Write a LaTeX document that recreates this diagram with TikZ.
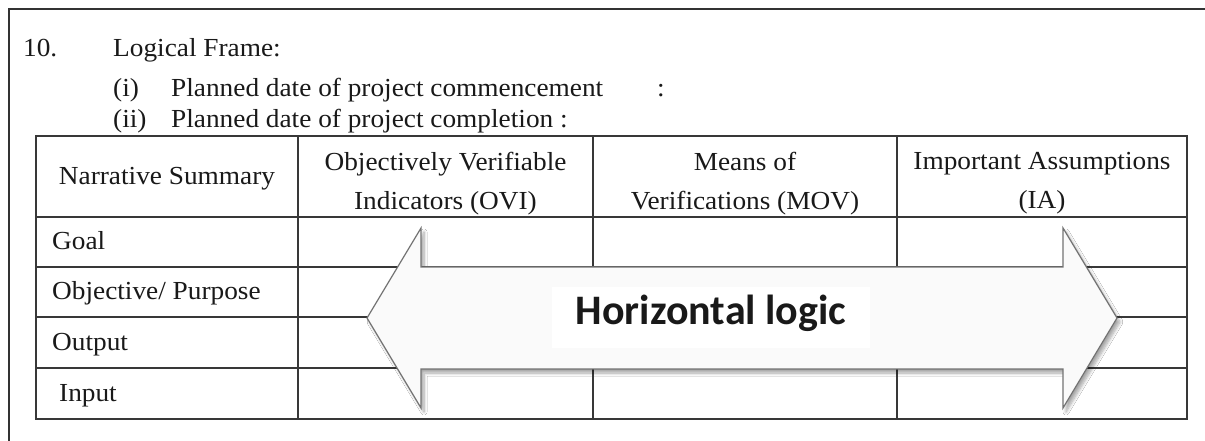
\documentclass[tikz,border=0pt]{standalone}
\usepackage{fontspec}
\setmainfont{Liberation Serif}[FakeStretch=1.05]
\newfontfamily\labelfont{Carlito}
\usetikzlibrary{shadows.blur}

\begin{document}
\begin{tikzpicture}[x=1bp, y=-1bp,
  frameline/.style={draw=black!80, line width=2bp},
  rule/.style={draw=black!78, line width=1.6bp},
  body/.style={font=\fontsize{26bp}{39bp}\selectfont, text=black!90, inner sep=0pt},
  headcell/.style={body, align=center},
  rowlabel/.style={body, anchor=base west},
  bigarrow/.style={draw=black!55, line width=1.2bp, fill=white!98!black,
    blur shadow={shadow xshift=3bp, shadow yshift=-4bp, shadow opacity=35,
      shadow blur radius=3bp, shadow blur steps=8}},
  caption/.style={fill=white, font=\labelfont\bfseries\fontsize{42bp}{50bp}\selectfont,
    text=black!90, text height=27bp, text depth=12bp, inner xsep=24bp, inner ysep=0pt,
    minimum height=61bp}
]
% page
\fill[white] (0,0) rectangle (1205,441);
\useasboundingbox (0,0) rectangle (1205,441);

% outer frame (left and top edges)
\coordinate (fbl) at (9,441);
\coordinate (ftl) at (9,9);
\coordinate (ftr) at (1205,9);
\draw[frameline] (fbl) -- (ftl) -- (ftr);

% heading lines
\node[rowlabel] (num)    at (23,57)  {10.};
\node[rowlabel] (title)  at (113,57) {Logical Frame:};
\node[rowlabel] (ia)     at (113,97) {(i)};
\node[rowlabel] (start)  at (171,97) {Planned date of project commencement};
\node[rowlabel] (colon)  at (657,97) {:};
\node[rowlabel] (iia)    at (113,128) {(ii)};
\node[rowlabel] (finish) at (171,128) {Planned date of project completion :};

% table grid
\coordinate (tnw) at (36,136);
\coordinate (tse) at (1187,419);
\draw[rule] (tnw) rectangle (tse);
\foreach \yy in {217,267,317,368}
  \draw[rule] (36,\yy) -- (1187,\yy);
\foreach \xx in {298,593,897}
  \draw[rule] (\xx,136) -- (\xx,419);

% header cells
\node[rowlabel, anchor=base] (h1) at (167,185) {Narrative Summary};
\node[headcell] (h2) at (445.5,183.5) {Objectively Verifiable\\Indicators (OVI)};
\node[headcell] (h3) at (745,183.5) {Means of\\Verifications (MOV)};
\node[headcell] (h4) at (1042,183.5) {Important Assumptions\\(IA)};

% row labels
\node[rowlabel] (goal)    at (52,250) {Goal};
\node[rowlabel] (purpose) at (52,300) {Objective/ Purpose};
\node[rowlabel] (output)  at (52,351) {Output};
\node[rowlabel] (input)   at (59,402) {Input};

% double-headed arrow over the table
\draw[bigarrow] (367,318) -- (421,228) -- (421,267) -- (1063,267) -- (1063,228)
  -- (1117,318) -- (1063,408) -- (1063,369) -- (421,369) -- (421,408) -- cycle;

\node[caption] (logic) at (711,317.5) {Horizontal logic};
\end{tikzpicture}
\end{document}
